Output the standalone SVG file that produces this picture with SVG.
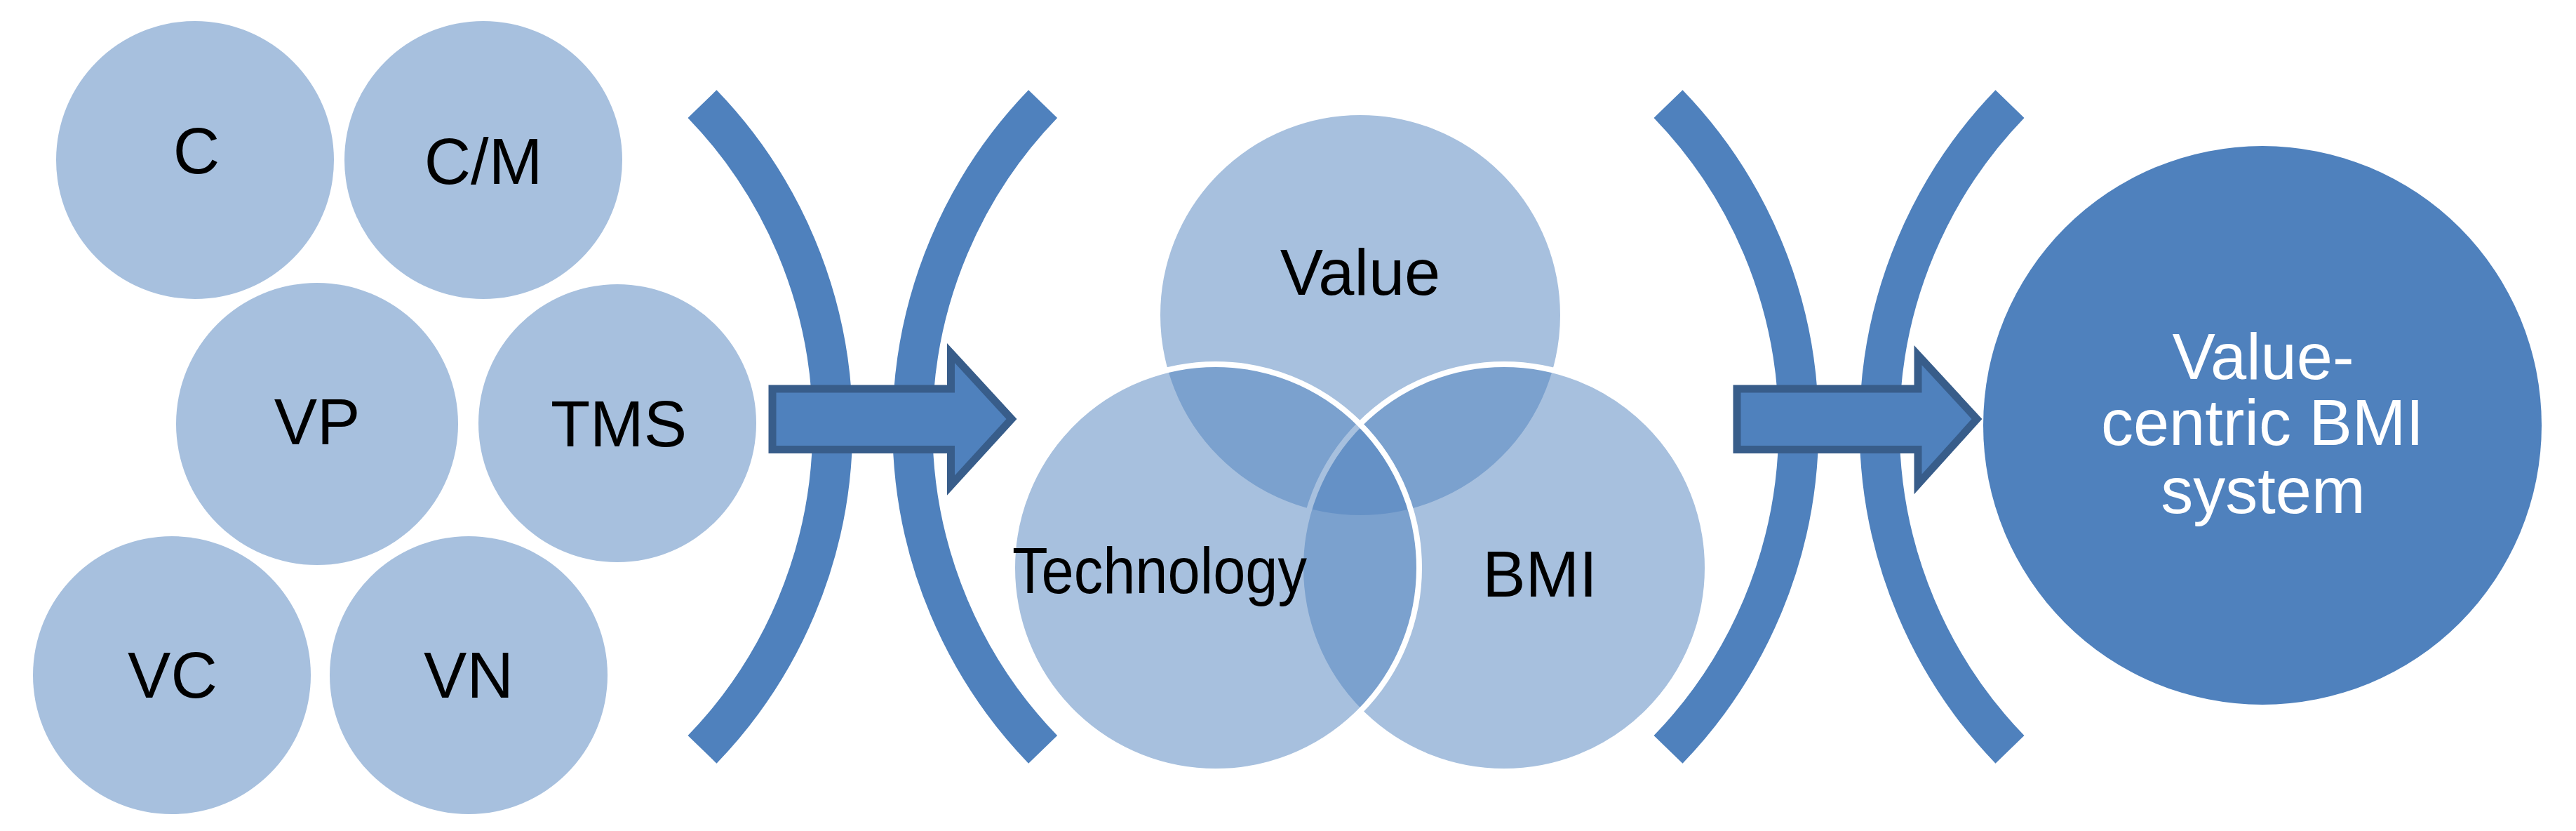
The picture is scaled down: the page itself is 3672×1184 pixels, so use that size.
<svg xmlns="http://www.w3.org/2000/svg" width="3672" height="1184" viewBox="0 0 3672 1184">
<style>
.lc{fill:#A7C0DE}
.lbl{font-family:"Liberation Sans",Arial,sans-serif;font-size:92px;fill:#000;text-anchor:middle}
.wl{font-family:"Liberation Sans",Arial,sans-serif;font-size:92px;fill:#fff;text-anchor:middle}
.br{fill:none;stroke:#4F81BD;stroke-width:57;stroke-linecap:butt}
.ar{fill:#4F81BD;stroke:#385D8A;stroke-width:11;stroke-linejoin:miter}
.vn{fill:#4F81BD;fill-opacity:0.5;stroke:#fff;stroke-width:8}
</style>
<rect width="3672" height="1184" fill="#fff"/>
<g id="node-C"><circle class="lc" cx="278" cy="228" r="198"/><text class="lbl" x="280" y="247">C</text></g>
<g id="node-CM"><circle class="lc" cx="689" cy="228" r="198"/><text class="lbl" x="689" y="262">C/M</text></g>
<g id="node-VP"><circle class="lc" cx="452" cy="604" r="201"/><text class="lbl" x="452" y="633">VP</text></g>
<g id="node-TMS"><circle class="lc" cx="880" cy="603" r="198"/><text class="lbl" x="882" y="636">TMS</text></g>
<g id="node-VC"><circle class="lc" cx="245" cy="962" r="198"/><text class="lbl" x="246" y="994">VC</text></g>
<g id="node-VN"><circle class="lc" cx="668" cy="962" r="198"/><text class="lbl" x="668" y="994">VN</text></g>
<g id="connectors">
<path class="br" d="M1001,148.1 A662,662 0 0 1 1001,1067.9"/>
<path class="br" d="M1486.6,148.1 A662,662 0 0 0 1486.6,1067.9"/>
<path class="br" d="M2378,148.1 A662,662 0 0 1 2378,1067.9"/>
<path class="br" d="M2865,148.1 A662,662 0 0 0 2865,1067.9"/>
<path class="ar" d="M1101,554 L1355.5,554 L1355.5,503 L1442,597 L1355.5,691.5 L1355.5,640.5 L1101,640.5 Z"/>
<path class="ar" d="M2476,554 L2734,554 L2734,506 L2818,597 L2734,690 L2734,640.5 L2476,640.5 Z"/>
</g>
<g id="node-Value"><circle class="vn" cx="1939" cy="449" r="289"/></g>
<g id="node-BMI"><circle class="vn" cx="2144" cy="809" r="290"/></g>
<g id="node-Technology"><circle class="vn" cx="1733" cy="809" r="290"/></g>
<g id="venn-labels">
<text class="lbl" x="1939" y="420">Value</text>
<text class="lbl" x="1653" y="845" font-size="90" textLength="420" lengthAdjust="spacingAndGlyphs">Technology</text>
<text class="lbl" x="2195" y="850">BMI</text>
</g>
<g id="node-system"><circle cx="3225" cy="606" r="398" fill="#4F81BD"/>
<text class="wl" x="3226" y="540">Value-</text>
<text class="wl" x="3225" y="634">centric BMI</text>
<text class="wl" x="3226" y="731">system</text>
</g>
</svg>
